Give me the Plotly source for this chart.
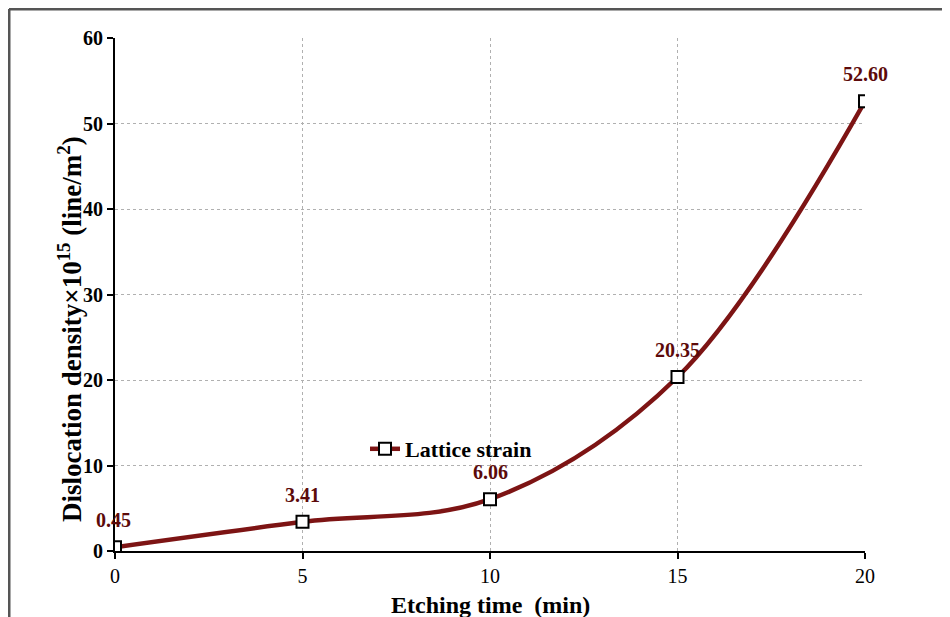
import plotly.graph_objects as go

etching_time = [0, 5, 10, 15, 20]
dislocation = [0.45, 3.41, 6.06, 20.35, 52.60]
labels = ["0.45", "3.41", "6.06", "20.35", "52.60"]
series_name = "Lattice strain"

W, H = 942, 609
ML, MR, MT, MB = 107, 85, 30, 66
PW, PH = W - ML - MR, H - MT - MB

def px_to_paper_x(px):
    return (px - ML) / PW

def px_to_paper_y(py):
    return (H - MB - py) / PH

fig = go.Figure()
fig.add_trace(go.Scatter(
    x=etching_time, y=dislocation, name=series_name,
    mode="lines+markers",
    line=dict(color="#7d1414", width=4.5, shape="spline", smoothing=1),
    marker=dict(symbol="square", size=12, color="white",
                line=dict(color="black", width=2)),
))

for xv, yv, t in zip(etching_time, dislocation, labels):
    fig.add_annotation(x=xv, y=yv, text=t, showarrow=False, yshift=27,
                       xshift=-2 if xv == 0 else 0,
                       font=dict(family="Liberation Serif", size=20,
                                 color="#5c0a0a", weight="bold"))

# axis titles as annotations (positioned like the reference)
fig.add_annotation(xref="paper", yref="paper",
                   x=px_to_paper_x(62), y=px_to_paper_y(321),
                   xanchor="center", yanchor="middle", textangle=-90,
                   showarrow=False,
                   text="Dislocation density×10<sup>15</sup> (line/m<sup>2</sup>)",
                   font=dict(family="Liberation Serif", size=27, weight="bold", color="black"))
fig.add_annotation(xref="paper", yref="paper",
                   x=0.5, y=px_to_paper_y(597),
                   xanchor="center", yanchor="middle", showarrow=False,
                   text="Etching time  (min)",
                   font=dict(family="Liberation Serif", size=24, weight="bold", color="black"))

xl = px_to_paper_x(1)
yt = px_to_paper_y(1)
fig.add_shape(type="line", xref="paper", yref="paper",
              x0=xl, x1=xl, y0=px_to_paper_y(H + 5), y1=yt,
              line=dict(color="#555555", width=3))
fig.add_shape(type="line", xref="paper", yref="paper",
              x0=xl, x1=px_to_paper_x(W + 5), y0=yt, y1=yt,
              line=dict(color="#555555", width=3))

fig.update_layout(
    width=W, height=H,
    margin=dict(l=ML, r=MR, t=MT, b=MB, autoexpand=False),
    paper_bgcolor="white", plot_bgcolor="white",
    font=dict(family="Liberation Serif", color="black"),
    showlegend=True,
    legend=dict(x=px_to_paper_x(357), y=px_to_paper_y(441),
                xanchor="left", yanchor="middle",
                bgcolor="rgba(0,0,0,0)",
                font=dict(family="Liberation Serif", size=22, weight="bold"),
                itemwidth=30),
    xaxis=dict(range=[0, 20], tickvals=[0, 5, 10, 15, 20],
               showline=True, linecolor="black", linewidth=2,
               ticks="outside", ticklen=6, tickcolor="black", tickwidth=2,
               showgrid=True, gridcolor="#b0b0b0", griddash="dot", gridwidth=1,
               zeroline=False,
               tickfont=dict(family="Liberation Serif", size=20)),
    yaxis=dict(range=[0, 60], tickvals=[0, 10, 20, 30, 40, 50, 60],
               showline=True, linecolor="black", linewidth=2,
               ticks="outside", ticklen=6, tickcolor="black", tickwidth=2,
               showgrid=True, gridcolor="#b0b0b0", griddash="dot", gridwidth=1,
               zeroline=False,
               tickfont=dict(family="Liberation Serif", size=20, weight="bold")),
)

fig.write_html("out.html")
